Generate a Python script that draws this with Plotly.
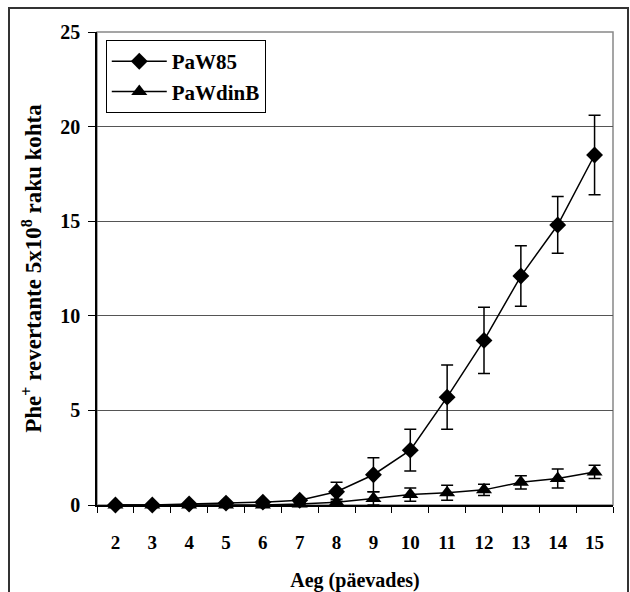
import plotly.graph_objects as go

days = ["2", "3", "4", "5", "6", "7", "8", "9", "10", "11", "12", "13", "14", "15"]
paw85 = [0.0, 0.0, 0.05, 0.1, 0.15, 0.25, 0.7, 1.6, 2.9, 5.7, 8.7, 12.1, 14.8, 18.5]
paw85_err = [0.0, 0.0, 0.02, 0.03, 0.05, 0.1, 0.5, 0.9, 1.1, 1.7, 1.75, 1.6, 1.5, 2.1]
pawdinb = [0.0, 0.0, 0.0, 0.0, 0.0, 0.05, 0.15, 0.35, 0.55, 0.65, 0.8, 1.2, 1.4, 1.75]
pawdinb_err = [0.0, 0.0, 0.0, 0.0, 0.02, 0.05, 0.15, 0.35, 0.35, 0.4, 0.3, 0.35, 0.5, 0.35]
y_ticks = [0, 5, 10, 15, 20, 25]

font_family = "Liberation Serif"

fig = go.Figure()
fig.add_trace(go.Scatter(
    x=days, y=paw85, name="<b>PaW85</b>", mode="lines+markers",
    line=dict(color="black", width=1.5), cliponaxis=False,
    marker=dict(symbol="diamond", size=13, color="black"),
    error_y=dict(type="data", array=paw85_err, color="black", thickness=1.5, width=6),
))
fig.add_trace(go.Scatter(
    x=days, y=pawdinb, name="<b>PaWdinB</b>", mode="lines+markers",
    line=dict(color="black", width=1.5), cliponaxis=False,
    marker=dict(symbol="triangle-up", size=14, color="black"),
    error_y=dict(type="data", array=pawdinb_err, color="black", thickness=1.5, width=6),
))

fig.update_layout(
    width=630, height=592,
    margin=dict(l=97, r=17, t=32, b=87, autoexpand=False),
    paper_bgcolor="white", plot_bgcolor="white",
    font=dict(family=font_family, size=18, color="black"),
    showlegend=True,
    legend=dict(
        x=0.017, y=0.983, xanchor="left", yanchor="top",
        bordercolor="black", borderwidth=1, bgcolor="white",
        font=dict(family=font_family, size=21, color="black"),
        tracegroupgap=0, itemwidth=55,
    ),
    xaxis=dict(
        type="category", categoryorder="array", categoryarray=days,
        range=[-0.5, len(days) - 0.5], automargin=False,
        tickvals=days, ticktext=["<b>%s</b>" % d for d in days],
        tickson="boundaries", ticks="outside", ticklen=6, tickcolor="black",
        showline=True, linecolor="black", linewidth=1.5,
        showgrid=False, zeroline=False,
        tickfont=dict(family=font_family, size=19, color="black"),
        ticklabelstandoff=19,
        title=dict(text="<b>Aeg (päevades)</b>", standoff=23,
                   font=dict(family=font_family, size=20, color="black")),
    ),
    yaxis=dict(
        range=[0, 25], automargin=False,
        tickvals=y_ticks, ticktext=["<b>%d</b>" % v for v in y_ticks],
        ticks="outside", ticklen=7, tickcolor="black",
        showline=True, linecolor="black", linewidth=1.5,
        showgrid=True, gridcolor="#555555", gridwidth=1,
        zeroline=False,
        tickfont=dict(family=font_family, size=20, color="black"),
        ticklabelstandoff=4,
        title=dict(text="<b>Phe<sup>+</sup> revertante 5x10<sup>8</sup> raku kohta</b>", standoff=12,
                   font=dict(family=font_family, size=23, color="black")),
    ),
)

# plot-area border (top/right gray)
fig.add_shape(type="rect", xref="paper", yref="paper", x0=0, x1=1, y0=0, y1=1,
              line=dict(color="#888888", width=1.5), layer="below")
# outer frame
fig.add_shape(type="rect", xref="paper", yref="paper",
              x0=(9 - 97) / 516, x1=(628 - 97) / 516,
              y0=(505 - 600) / 473, y1=(505 - 8) / 473,
              line=dict(color="#333333", width=2), layer="below")

fig.write_html("out.html",
               config={"displayModeBar": False},
               post_script="document.body.style.margin='0';document.body.style.overflow='hidden';")
